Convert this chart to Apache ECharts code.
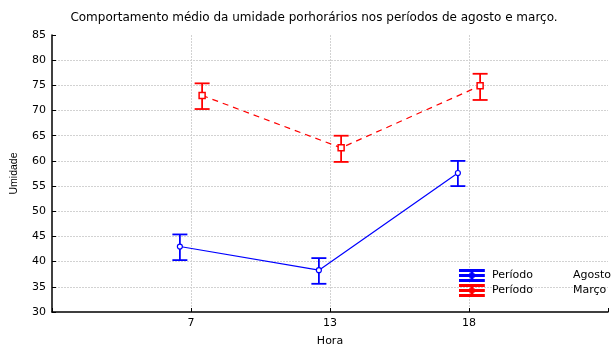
<!DOCTYPE html>
<html>
<head>
<meta charset="utf-8">
<script src="https://cdn.jsdelivr.net/npm/echarts@6/dist/echarts.min.js"></script>
<style>html,body{margin:0;padding:0;background:#fff}#c{width:615px;height:344px}</style>
</head>
<body>
<div id="c"></div>
<script>
const titleText = 'Comportamento médio da umidade porhorários nos períodos de agosto e março.';
const categories = ['7', '13', '18'];
const agostoMean = [43.0, 38.3, 57.6];
const agostoLow = [40.3, 35.6, 55.0];
const agostoHigh = [45.4, 40.7, 60.0];
const marcoMean = [73.0, 62.6, 74.9];
const marcoLow = [70.3, 59.8, 72.1];
const marcoHigh = [75.4, 65.0, 77.3];
const yTicks = [30, 35, 40, 45, 50, 55, 60, 65, 70, 75, 80, 85];
const seriesNames = ['Período Agosto', 'Período Março'];

const offset = 0.08;
function pts(mean, off) { return mean.map((v, i) => [i + 1 + off, v]); }
function bars(lo, hi, off) { return lo.map((v, i) => [i + 1 + off, v, hi[i]]); }

function errRender(color) {
  return function (params, api) {
    const x = api.value(0);
    const lo = api.coord([x, api.value(1)]);
    const hi = api.coord([x, api.value(2)]);
    const w = 7.5;
    const st = { stroke: color, lineWidth: 1.8 };
    return {
      type: 'group',
      children: [
        { type: 'line', shape: { x1: lo[0], y1: lo[1], x2: hi[0], y2: hi[1] }, style: st },
        { type: 'line', shape: { x1: lo[0] - w, y1: lo[1], x2: lo[0] + w, y2: lo[1] }, style: st },
        { type: 'line', shape: { x1: hi[0] - w, y1: hi[1], x2: hi[0] + w, y2: hi[1] }, style: st }
      ]
    };
  };
}

const iconPath = 'path://M0,0H26V1.2H0Z M0,5.4H26V6.6H0Z M0,10.8H26V12H0Z M12.4,0H13.6V12H12.4Z M11.2,4.6H14.8V7.4H11.2Z';
const font = 'DejaVu Sans, Verdana, sans-serif';

const chart = echarts.init(document.getElementById('c'));
chart.setOption({
  animation: false,
  backgroundColor: '#fff',
  title: {
    text: titleText, left: 309, top: 7, textAlign: 'center',
    textStyle: { fontSize: 12, fontWeight: 'normal', color: '#000', fontFamily: font }
  },
  legend: {
    orient: 'vertical', left: 459, top: 269, itemGap: 2,
    itemWidth: 26, itemHeight: 11, padding: 0,
    data: [
      { name: seriesNames[0], icon: iconPath, itemStyle: { color: '#0000ff' } },
      { name: seriesNames[1], icon: iconPath, itemStyle: { color: '#ff0000' } }
    ],
    formatter: function (name) {
      const p = name.split(' ');
      return '{a|' + p[0] + '}{b|' + p[1] + '}';
    },
    textStyle: {
      fontFamily: font, fontSize: 11, color: '#000', lineHeight: 12,
      rich: { a: { width: 81, fontSize: 11, lineHeight: 12, fontFamily: font, padding: [0, 0, 0, 2] }, b: { fontSize: 11, lineHeight: 12, fontFamily: font } }
    }
  },
  grid: { left: 52, right: 7, top: 35, bottom: 32, containLabel: false, outerBoundsMode: 'none' },
  xAxis: {
    type: 'value', min: 0, max: 4, interval: 1,
    name: 'Hora', nameLocation: 'middle', nameGap: 24,
    nameTextStyle: { fontFamily: font, fontSize: 11, color: '#000' },
    axisLine: { onZero: false, lineStyle: { color: '#000', width: 1.5 } },
    axisTick: { inside: true, length: 4, lineStyle: { color: '#000' } },
    axisLabel: {
      fontFamily: font, fontSize: 11, color: '#000', margin: 6,
      formatter: function (v) { return categories[v - 1] !== undefined ? categories[v - 1] : ''; }
    },
    splitLine: {
      show: true,
      lineStyle: { color: '#d2d2d2', type: [2, 1] },
      showMinLine: false, showMaxLine: false
    }
  },
  yAxis: {
    type: 'value', min: yTicks[0], max: yTicks[yTicks.length - 1], interval: 5,
    name: 'Umidade', nameLocation: 'middle', nameGap: 32, nameRotate: 90,
    nameTextStyle: { fontFamily: 'Liberation Sans, Arial, sans-serif', fontSize: 10.5, color: '#000' },
    axisLine: { show: true, lineStyle: { color: '#000', width: 1.5 } },
    axisTick: { show: true, inside: true, length: 4, lineStyle: { color: '#000' } },
    axisLabel: { fontFamily: font, fontSize: 11, color: '#000', margin: 6 },
    splitLine: {
      show: true,
      lineStyle: { color: '#d2d2d2', type: [2, 1] },
      showMinLine: false, showMaxLine: false
    }
  },
  series: [
    {
      name: seriesNames[0], type: 'line', data: pts(agostoMean, -offset),
      symbol: 'circle', symbolSize: 5, showSymbol: true,
      itemStyle: { color: '#fff', borderColor: '#0000ff', borderWidth: 1.2 },
      lineStyle: { color: '#0000ff', width: 1.2 }, z: 3
    },
    {
      name: seriesNames[1], type: 'line', data: pts(marcoMean, offset),
      symbol: 'rect', symbolSize: 6, showSymbol: true,
      itemStyle: { color: '#fff', borderColor: '#ff0000', borderWidth: 1.5 },
      lineStyle: { color: '#ff0000', width: 1.2, type: [6, 5] }, z: 3
    },
    {
      name: seriesNames[0], type: 'custom', data: bars(agostoLow, agostoHigh, -offset),
      renderItem: errRender('#0000ff'), encode: { x: 0, y: [1, 2] }, z: 2
    },
    {
      name: seriesNames[1], type: 'custom', data: bars(marcoLow, marcoHigh, offset),
      renderItem: errRender('#ff0000'), encode: { x: 0, y: [1, 2] }, z: 2
    }
  ]
});
</script>
</body>
</html>
